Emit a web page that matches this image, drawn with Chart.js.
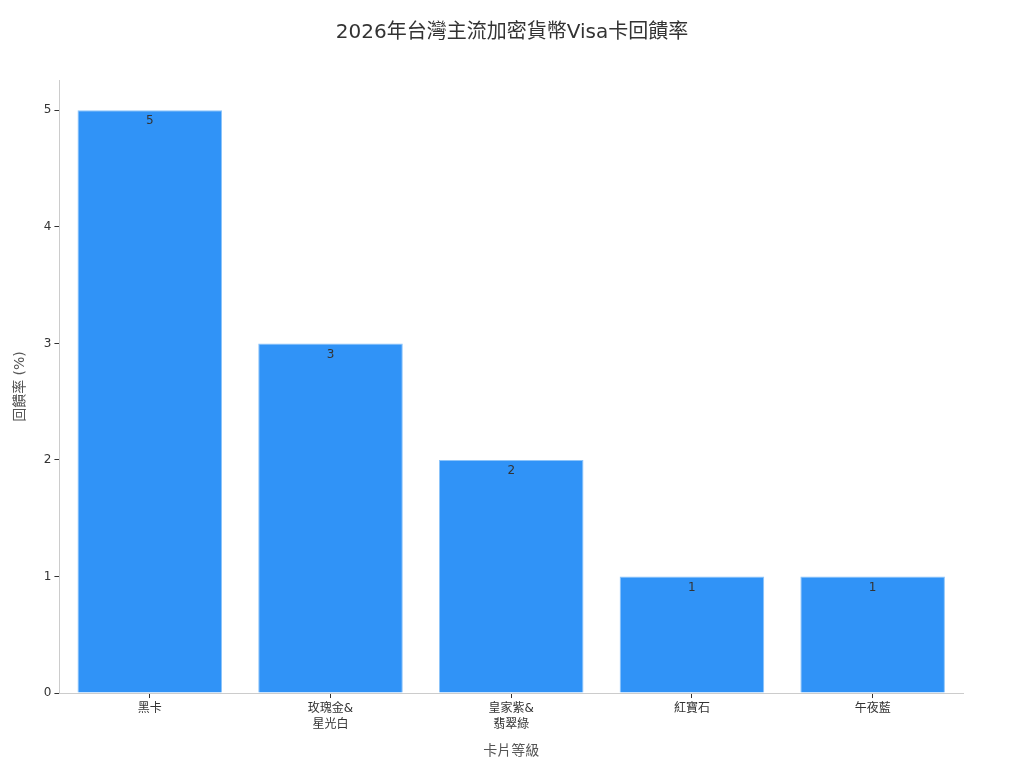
<!DOCTYPE html>
<html><head><meta charset="utf-8">
<script src="https://cdn.jsdelivr.net/npm/chart.js@4"></script>
<style>html,body{margin:0;padding:0;background:#fff}#wrap{width:1024px;height:768px}</style>
</head><body><div id="wrap"><canvas id="c" width="1024" height="768"></canvas></div>
<script>
const categories = [["黑卡"], ["玫瑰金&", "星光白"], ["皇家紫&", "翡翠綠"], ["紅寶石"], ["午夜藍"]];
const rewardRates = [5, 3, 2, 1, 1];
const yTicks = [0, 1, 2, 3, 4, 5];
const chartTitle = '2026年台灣主流加密貨幣Visa卡回饋率';
const FONT = "'DejaVu Sans', 'Noto Sans CJK TC', sans-serif";

const valueLabels = {
  id: 'valueLabels',
  afterDatasetsDraw(chart) {
    const ctx = chart.ctx;
    const meta = chart.getDatasetMeta(0);
    ctx.save();
    ctx.font = "12px " + FONT;
    ctx.fillStyle = '#333333';
    ctx.textAlign = 'center';
    ctx.textBaseline = 'middle';
    meta.data.forEach((bar, i) => {
      ctx.fillText(String(rewardRates[i]), bar.x, bar.y + 11);
    });
    ctx.restore();
  }
};

const centeredTitle = {
  id: 'centeredTitle',
  afterDraw(chart) {
    const ctx = chart.ctx;
    ctx.save();
    ctx.font = "20px " + FONT;
    ctx.fillStyle = '#333333';
    ctx.textAlign = 'center';
    ctx.textBaseline = 'middle';
    ctx.fillText(chartTitle, chart.width / 2, 33);
    ctx.restore();
  }
};

new Chart(document.getElementById('c'), {
  type: 'bar',
  data: {
    labels: categories,
    datasets: [{
      data: rewardRates,
      backgroundColor: '#3093f7',
      borderColor: '#8cc4fa',
      borderWidth: 1,
      categoryPercentage: 0.8,
      barPercentage: 1.0
    }]
  },
  options: {
    responsive: false,
    animation: false,
    devicePixelRatio: 1,
    layout: { padding: { left: 8, right: 61, top: 80, bottom: 4 } },
    plugins: {
      legend: { display: false },
      tooltip: { enabled: false },
      title: { display: false }
    },
    scales: {
      x: {
        grid: { display: true, offset: false, drawOnChartArea: false, drawTicks: true, tickLength: 5, color: '#333333' },
        border: { display: true, color: '#cccccc' },
        ticks: { color: '#333333', font: { family: FONT, size: 12, lineHeight: 1.34 }, padding: 3 },
        title: { display: true, text: '卡片等級', color: '#555555', font: { family: FONT, size: 14 }, padding: { top: 7 } }
      },
      y: {
        min: 0,
        max: 5.26,
        afterBuildTicks(axis) { axis.ticks = yTicks.map(v => ({ value: v })); },
        grid: { display: true, drawOnChartArea: false, drawTicks: true, tickLength: 5, color: '#333333' },
        border: { display: true, color: '#cccccc' },
        ticks: { color: '#333333', font: { family: FONT, size: 12 }, padding: 3 },
        title: { display: true, text: '回饋率 (%)', color: '#555555', font: { family: FONT, size: 14 }, padding: { bottom: 12 } }
      }
    }
  },
  plugins: [valueLabels, centeredTitle]
});
</script></body></html>
